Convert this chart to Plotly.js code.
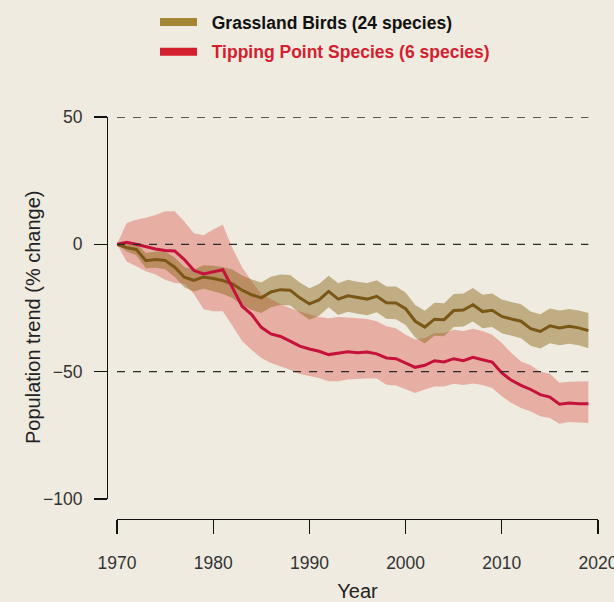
<!DOCTYPE html>
<html>
<head>
<meta charset="utf-8">
<script src="https://cdn.plot.ly/plotly-3.0.1.min.js"></script>
<style>html,body{margin:0;padding:0;background:#efebe0;overflow:hidden;}#chart{width:614px;height:602px;}</style>
</head>
<body>
<div id="chart"></div>
<script>
const years = [1970,1971,1972,1973,1974,1975,1976,1977,1978,1979,
  1980,1981,1982,1983,1984,1985,1986,1987,1988,1989,
  1990,1991,1992,1993,1994,1995,1996,1997,1998,1999,
  2000,2001,2002,2003,2004,2005,2006,2007,2008,2009,
  2010,2011,2012,2013,2014,2015,2016,2017,2018,2019];

const grassland = [0,-1.3,-2,-6.4,-6,-6.3,-9,-12.9,-14.2,-12.8,
  -13.4,-14.2,-15.5,-18,-19.8,-21,-18.7,-17.8,-18,-21,
  -23.4,-21.8,-18.5,-21.5,-20.2,-21,-21.5,-20.4,-22.9,-23,
  -25.3,-30.2,-32.5,-29.4,-29.6,-26,-25.8,-23.7,-26.4,-25.9,
  -28.3,-29.3,-30.2,-33.1,-34.2,-32,-32.8,-32.2,-32.8,-33.9];
const grasslandUpper = [0,0.2,0.3,-3.4,-2.8,-2.8,-5.2,-8.9,-9.9,-8.2,
  -8.4,-8.9,-9.9,-12.2,-13.8,-15,-12.7,-11.8,-12,-15,
  -17.2,-15.6,-12.3,-15.3,-13.9,-14.7,-15.2,-14.1,-16.6,-16.6,
  -18.9,-23.8,-26.1,-22.9,-23.1,-19.5,-19.3,-17.1,-19.8,-19.3,
  -21.7,-22.6,-23.5,-26.4,-27.5,-25.2,-26,-25.4,-26,-27];
const grasslandLower = [0,-2.8,-4.3,-9.4,-9.2,-9.8,-12.8,-16.9,-18.5,-17.4,
  -18.4,-19.5,-21.1,-23.8,-25.8,-27,-24.7,-23.8,-24,-27,
  -29.6,-28,-24.7,-27.7,-26.5,-27.3,-27.8,-26.7,-29.2,-29.4,
  -31.7,-36.6,-38.9,-35.9,-36.1,-32.5,-32.3,-30.3,-33,-32.5,
  -34.9,-36,-36.9,-39.8,-40.9,-38.8,-39.6,-39,-39.6,-40.8];

const tipping = [0,0.8,0,-1,-1.8,-2.4,-2.6,-6,-10.3,-11.6,
  -10.8,-10,-17,-24.3,-27.6,-32.6,-35.2,-36.2,-38,-40,
  -41.1,-42,-43.3,-42.8,-42.2,-42.6,-42.3,-43,-44.6,-44.9,
  -46.6,-48.3,-47.5,-45.7,-46.2,-44.9,-45.7,-44.4,-45.3,-46.2,
  -50.5,-53.4,-55.4,-57,-59,-60,-62.8,-62.3,-62.6,-62.6];
const tippingUpper = [0,8.4,9.7,10.4,11.5,13,13,9,4.4,3.6,
  5.8,7.7,-1.5,-9,-14.5,-19.5,-21.5,-23.5,-25,-26.5,
  -27.5,-28.5,-29,-28.5,-28.7,-29,-29.3,-30.2,-32.2,-33,
  -35.5,-37.4,-36.8,-34.8,-34.8,-33.5,-34,-33.1,-34,-35.5,
  -38.7,-42.7,-46,-47.5,-49.9,-50.8,-54.4,-54,-53.9,-53.8];
const tippingLower = [0,-6.7,-8.6,-10.6,-11.8,-13.9,-15.2,-15.5,-19.5,-25.5,
  -26.3,-26.3,-32,-38,-41.5,-44.6,-46.6,-47.9,-49.2,-50.9,
  -51.8,-52.5,-53.8,-53.8,-53.1,-52.8,-52.7,-52.7,-55.1,-55.4,
  -56.8,-58.4,-57,-55.8,-55.8,-54.7,-55.2,-54.6,-55.2,-56.4,
  -59.7,-62.3,-64.3,-65.6,-67.5,-68.2,-70.5,-69.8,-70,-70.2];

const xTicks = [1970,1980,1990,2000,2010,2020];
const yTicks = [-100,-50,0,50];
const gridVals = [50,0,-50];
const seriesNames = ['Grassland Birds (24 species)','Tipping Point Species (6 species)'];
const yTitle = 'Population trend (% change)';
const xTitle = 'Year';

const BG = '#efebe0';
const FONT = 'Liberation Sans, Arial, Helvetica, sans-serif';
const SP = '\u00a0\u00a0';

const traces = [
  {x: years, y: tippingUpper, mode:'lines', line:{width:0, color:'rgba(0,0,0,0)'}, showlegend:false, hoverinfo:'skip'},
  {x: years, y: tippingLower, mode:'lines', line:{width:0, color:'rgba(0,0,0,0)'}, fill:'tonexty', fillcolor:'rgba(220,92,80,0.42)', showlegend:false, hoverinfo:'skip'},
  {x: years, y: grasslandUpper, mode:'lines', line:{width:0, color:'rgba(0,0,0,0)'}, showlegend:false, hoverinfo:'skip'},
  {x: years, y: grasslandLower, mode:'lines', line:{width:0, color:'rgba(0,0,0,0)'}, fill:'tonexty', fillcolor:'rgba(140,104,25,0.47)', showlegend:false, hoverinfo:'skip'},
  {x: years, y: grassland, mode:'lines', line:{width:3, color:'#7a5716'}, showlegend:false},
  {x: years, y: tipping, mode:'lines', line:{width:3, color:'#c4123a'}, showlegend:false},
  {x:[null], y:[null], mode:'lines', line:{width:8, color:'#a38534'}, name:SP+'<b>'+seriesNames[0]+'</b>', legendgroup:'a'},
  {x:[null], y:[null], mode:'lines', line:{width:8, color:'#d4202e'}, name:SP+'<b><span style="color:#d4202e">'+seriesNames[1]+'</span></b>', legendgroup:'b'}
];

const PW = 614 - 107 - 16;
const XDOM = [10/PW, 1];

const shapes = gridVals.map(v => ({
  type:'line', xref:'x', yref:'y', x0: years[0], x1: years[years.length-1], y0: v, y1: v,
  line:{color:'#2a2a2a', width:1.3, dash:'8px,8px'}, layer:'above'
}));
// last x tick mark at the axis' right end, drawn in pixel units below the axis line
shapes.push({type:'line', xref:'x', yref:'paper', ysizemode:'pixel', yanchor:0,
  x0:xTicks[xTicks.length-1] - 0.02, x1:xTicks[xTicks.length-1] - 0.02, y0:0, y1:-14,
  line:{color:'#111', width:1.5}, layer:'above'});

const layout = {
  width:614, height:602,
  paper_bgcolor: BG, plot_bgcolor: BG,
  margin:{l:107, r:16, t:117, b:83, autoexpand:false},
  font:{family:FONT, color:'#222'},
  showlegend:true,
  legend:{
    xref:'container', yref:'container', x:155/614, y:1-4/602, xanchor:'left', yanchor:'top',
    bgcolor:'rgba(0,0,0,0)', font:{family:FONT, size:17.5, color:'#111'},
    itemwidth:37, tracegroupgap:4, traceorder:'grouped'
  },
  xaxis:{
    domain:XDOM, range:[1970, 2020], anchor:'free', position:0, automargin:false,
    tickvals:xTicks, ticktext:xTicks.map(String), tickangle:0, ticks:'outside', ticklen:14, tickwidth:1.3, tickcolor:'#111',
    ticklabeloverflow:'allow',
    showline:true, linecolor:'#111', linewidth:1.3, showgrid:false, zeroline:false,
    tickfont:{family:FONT, size:17.5, color:'#333'}, ticklabelstandoff:14,
    title:{text:xTitle, font:{family:FONT, size:20, color:'#222'}, standoff:15}
  },
  yaxis:{
    domain:[20/402, 1], range:[-100, 50], anchor:'free', position:0, automargin:false,
    tickvals:yTicks, ticks:'outside', ticklen:13, tickwidth:1.3, tickcolor:'#111',
    showline:true, linecolor:'#111', linewidth:1.3, showgrid:false, zeroline:false,
    tickfont:{family:FONT, size:17.5, color:'#333'}, ticklabelstandoff:8
  },
  annotations:[{
    text: yTitle, textangle:-90, xref:'paper', yref:'paper',
    x:(33-107)/PW, y:(519-317)/402, xanchor:'center', yanchor:'middle', showarrow:false,
    font:{family:FONT, size:20, color:'#222'}
  }],
  shapes: shapes
};

Plotly.newPlot('chart', traces, layout, {displayModeBar:false, staticPlot:true});
</script>
</body>
</html>
